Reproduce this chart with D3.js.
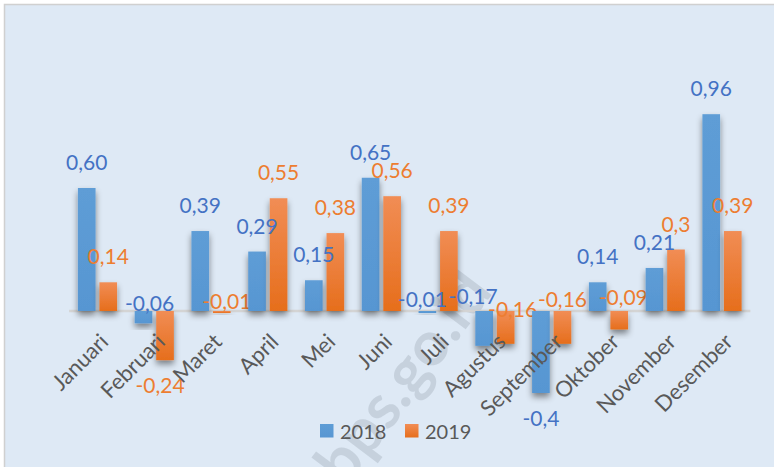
<!DOCTYPE html>
<html><head><meta charset="utf-8">
<script src="https://cdn.jsdelivr.net/npm/d3@7"></script>
<style>body{margin:0;background:#fff}svg{display:block}</style>
</head><body>
<script>
const categories = ["Januari","Februari","Maret","April","Mei","Juni","Juli","Agustus","September","Oktober","November","Desember"];
const series2018 = [0.60,-0.06,0.39,0.29,0.15,0.65,-0.01,-0.17,-0.40,0.14,0.21,0.96];
const series2019 = [0.14,-0.24,-0.01,0.55,0.38,0.56,0.39,-0.16,-0.16,-0.09,0.30,0.39];
const labels2018 = ["0,60","-0,06","0,39","0,29","0,15","0,65","-0,01","-0,17","-0,4","0,14","0,21","0,96"];
const labels2019 = ["0,14","-0,24","-0,01","0,55","0,38","0,56","0,39","-0,16","-0,16","-0,09","0,3","0,39"];
const seriesNames = ["2018","2019"];

// layout tweaks for hand-placed data labels (dx, dy in px)
const labelNudge = {
  "Februari-2018":[6,4], "Februari-2019":[-5,0], "Maret-2019":[5,2],
  "Juli-2018":[-5,0], "Agustus-2018":[-11,-3], "Agustus-2019":[7,10], "Oktober-2019":[4,-2]
};

const W = 774, H = 467;
const svg = d3.select("body").append("svg").attr("width", W).attr("height", H);
const defs = svg.append("defs");
const gB = defs.append("linearGradient").attr("id","gBlue").attr("x1",0).attr("y1",0).attr("x2",0).attr("y2",1);
gB.append("stop").attr("offset","0%").attr("stop-color","#5E9DD6");
gB.append("stop").attr("offset","100%").attr("stop-color","#5796D2");
const gO = defs.append("linearGradient").attr("id","gOrange").attr("x1",0).attr("y1",0).attr("x2",0).attr("y2",1);
gO.append("stop").attr("offset","0%").attr("stop-color","#F18D55");
gO.append("stop").attr("offset","100%").attr("stop-color","#E66E1C");
const f = defs.append("filter").attr("id","sh").attr("x","-50%").attr("y","-50%").attr("width","200%").attr("height","200%");
f.append("feDropShadow").attr("dx",0).attr("dy",4).attr("stdDeviation",3).attr("flood-color","#000").attr("flood-opacity",0.45);

// background
svg.append("rect").attr("x",4.5).attr("y",4.5).attr("width",W).attr("height",H).attr("fill","#DEE9F5").attr("stroke","#D0D0D0").attr("stroke-width",1.5);

const x0 = d3.scaleBand().domain(categories).range([69.1, 750.4]).padding(0);
const groupW = x0.bandwidth()*0.69;
const x1 = d3.scaleBand().domain(seriesNames).range([0, groupW]).paddingInner(0.18);
const y = d3.scaleLinear().domain([-0.5, 1.0]).range([413.5, 106]);

const font = "Lato, 'Open Sans', sans-serif";

// watermark (behind marks)
const wm = svg.append("g");

// zero line
svg.append("line").attr("x1", x0.range()[0]).attr("x2", x0.range()[1]).attr("y1", y(0)).attr("y2", y(0))
  .attr("stroke","#D4D4D4").attr("stroke-width",2.5);

const rows = categories.map((c,i)=>({c, vals:[
  {c, s:"2018", v:series2018[i], l:labels2018[i], fill:"url(#gBlue)", tc:"#4472C4"},
  {c, s:"2019", v:series2019[i], l:labels2019[i], fill:"url(#gOrange)", tc:"#ED7D31"}]}));

const groups = svg.append("g").selectAll("g").data(rows).join("g")
  .attr("transform", d => `translate(${x0(d.c) + (x0.bandwidth()-groupW)/2},0)`);
groups.selectAll("rect").data(d=>d.vals).join("rect")
  .attr("x", d=>x1(d.s)).attr("width", x1.bandwidth())
  .attr("y", d=>Math.min(y(d.v), y(0))).attr("height", d=>Math.abs(y(d.v)-y(0)))
  .attr("fill", d=>d.fill).attr("filter","url(#sh)");

const nud = d => labelNudge[d.c+"-"+d.s] || [0,0];
groups.selectAll("text").data(d=>d.vals).join("text")
  .attr("x", d=>x1(d.s)+x1.bandwidth()/2 + nud(d)[0])
  .attr("y", d=> (d.v >= 0 ? y(d.v)-18 : (d.v > -0.2 ? y(0)-4 : y(d.v)+33)) + nud(d)[1])
  .attr("text-anchor","middle").attr("font-family",font).attr("font-size",21)
  .attr("fill", d=>d.tc).text(d=>d.l);

// category labels
svg.append("g").selectAll("text").data(categories).join("text")
  .attr("transform", d=>`translate(${x0(d)+x0.bandwidth()/2+1},332) rotate(-45)`)
  .attr("dy","0.72em").attr("text-anchor","end")
  .attr("font-family",font).attr("font-size",22).attr("fill","#595959").text(d=>d);

// legend
const leg = svg.append("g").attr("font-family",font).attr("font-size",20).attr("fill","#595959");
const legItems = [{n:"2018", fill:"url(#gBlue)", x:320},{n:"2019", fill:"url(#gOrange)", x:405}];
legItems.forEach(it=>{
  leg.append("rect").attr("x",it.x).attr("y",424).attr("width",13.5).attr("height",13.5).attr("fill",it.fill);
  leg.append("text").attr("x",it.x+20).attr("y",438.5).text(it.n);
});

wm.append("text").attr("transform","translate(420,390) rotate(-53)")
  .attr("text-anchor","middle").attr("font-family",font).attr("font-weight","bold").attr("font-size",62)
  .attr("fill","#7f8a96").attr("fill-opacity",0.25).text("bps.go.id");
</script>
</body></html>
